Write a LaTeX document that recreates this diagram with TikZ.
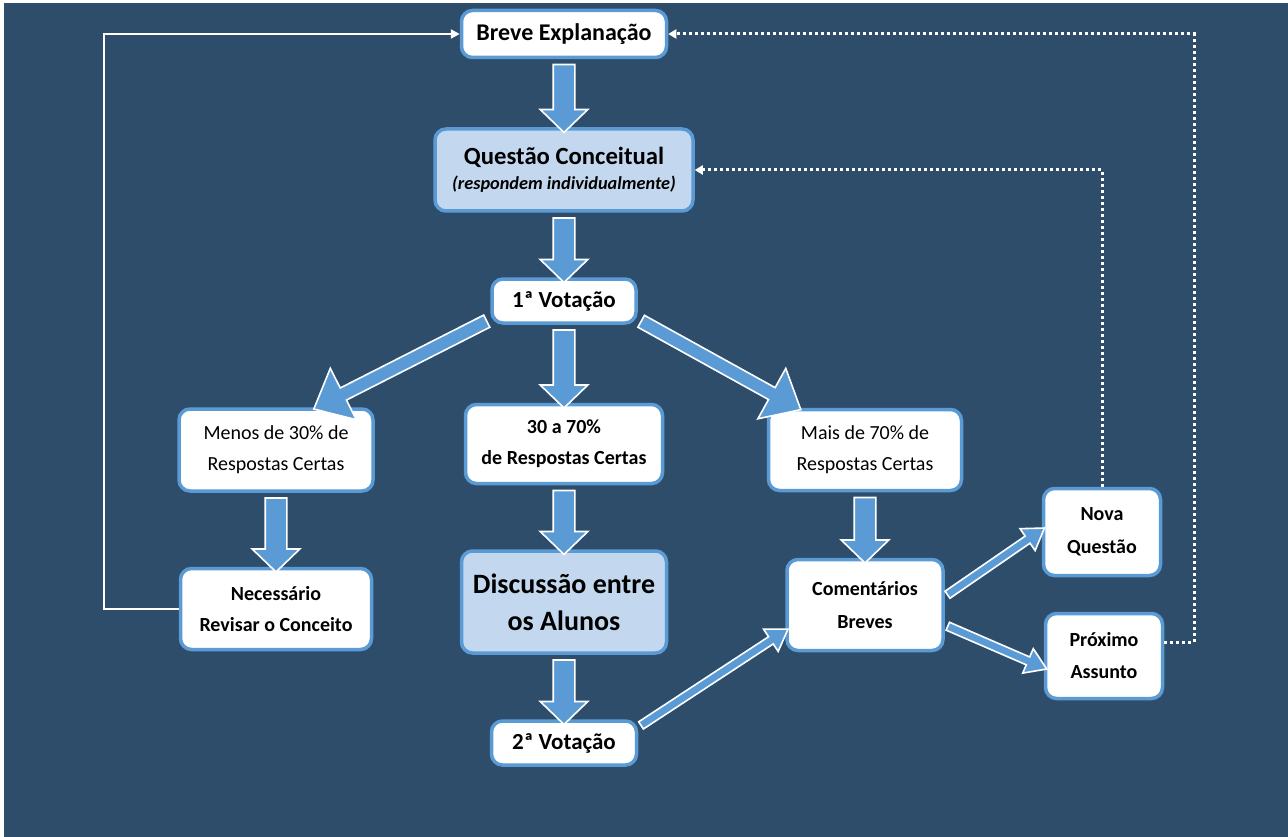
\documentclass[tikz,border=0pt]{standalone}
\usepackage{fontspec}
\setmainfont{Carlito}
\usetikzlibrary{positioning,arrows.meta,calc,shapes.arrows}
\definecolor{slate}{HTML}{2E4D6B}
\definecolor{rim}{HTML}{5B9BD5}
\definecolor{pale}{HTML}{C3D8EF}
\definecolor{flow}{HTML}{5B9BD5}

% block arrow from one anchor to another
\newcommand{\fatarrow}[3][flowarrow]{%
  \path let \p1=(#2), \p2=(#3),
    \n1={atan2(\y2-\y1,\x2-\x1)}, \n2={veclen(\x2-\x1,\y2-\y1)} in
    node[#1,rotate=\n1,minimum height=\n2] at ($(\p1)!0.5!(\p2)$) {};}

\begin{document}
\begin{tikzpicture}[x=1pt,y=-1pt,
    box/.style={draw=rim,line width=3.5pt,rounded corners=11pt,fill=white,
      align=center,inner sep=2pt,font=\bfseries\fontsize{20}{31}\selectfont},
    keybox/.style={box,fill=pale},
    flowarrow/.style={single arrow,draw=white,line width=1.6pt,fill=flow,
      inner sep=10pt,single arrow head extend=13pt,single arrow tip angle=92},
    slantarrow/.style={flowarrow,inner sep=6pt,single arrow head extend=22pt,
      single arrow tip angle=82},
    thinarrow/.style={flowarrow,inner sep=3.5pt,single arrow head extend=9pt,
      single arrow tip angle=66},
    loopline/.style={draw=white,line width=2.5pt,-{Triangle[length=9pt,width=9pt]}},
    dotline/.style={draw=white,line width=3pt,dash pattern=on 3pt off 3pt,
      -{Triangle[length=8pt,width=9pt]}}]
  \fill[white] (0,0) rectangle (1288,837);
  \fill[slate] (4,3) rectangle (1288,837);

  % boxes
  \node[box,minimum width=205,minimum height=47,font=\bfseries\fontsize{24}{28}\selectfont]
    (brv) at (564,34) {Breve Explanação};
  \node[keybox,minimum width=258,minimum height=82,font=\bfseries\fontsize{24.7}{26}\selectfont]
    (qst) at (564,170) {Questão Conceitual\\[-1pt]{\itshape\fontsize{18.3}{20}\selectfont(respondem individualmente)}};
  \node[box,minimum width=144,minimum height=44,font=\bfseries\fontsize{23}{26}\selectfont]
    (v1) at (564,301) {1ª Votação};
  \node[box,minimum width=194,minimum height=82,font=\fontsize{20}{31}\selectfont]
    (low) at (276,450) {Menos de 30\% de\\Respostas Certas};
  \node[box,minimum width=197,minimum height=79]
    (mid) at (564,444) {30 a 70\%\\de Respostas Certas};
  \node[box,minimum width=193,minimum height=81,font=\fontsize{20}{31}\selectfont]
    (high) at (865,450) {Mais de 70\% de\\Respostas Certas};
  \node[box,minimum width=191,minimum height=81]
    (nec) at (276,609) {Necessário\\Revisar o Conceito};
  \node[keybox,minimum width=205,minimum height=102,font=\bfseries\fontsize{28}{37}\selectfont]
    (disc) at (564,602) {Discussão entre\\os Alunos};
  \node[box,minimum width=145,minimum height=44,font=\bfseries\fontsize{23}{26}\selectfont]
    (v2) at (564,743) {2ª Votação};
  \node[box,minimum width=156,minimum height=91,font=\bfseries\fontsize{20}{33}\selectfont]
    (com) at (865,605) {Comentários\\Breves};
  \node[box,minimum width=117,minimum height=87,font=\bfseries\fontsize{20}{33}\selectfont]
    (nova) at (1102,532) {Nova\\Questão};
  \node[box,minimum width=117,minimum height=85,font=\bfseries\fontsize{20}{32}\selectfont]
    (prox) at (1104,656) {Próximo\\Assunto};

  % block arrows
  \fatarrow{brv.south}{qst.north}
  \fatarrow{qst.south}{v1.north}
  \fatarrow{v1.south}{mid.north}
  \fatarrow{low.south}{nec.north}
  \fatarrow{mid.south}{disc.north}
  \fatarrow{disc.south}{v2.north}
  \fatarrow{high.south}{com.north}
  \fatarrow[slantarrow]{v1.194}{low.46}
  \fatarrow[slantarrow]{v1.346}{high.148}
  \fatarrow[thinarrow]{v2.12}{com.198}
  \fatarrow[thinarrow]{com.6}{nova.178}
  \fatarrow[thinarrow]{com.346}{prox.191}

  % feedback lines
  \draw[loopline] (nec.west) -- ++(-75,0) |- (brv.west);
  \draw[dotline] (nova.north) |- (qst.east);
  \draw[dotline] (prox.13) -- ++(30,0) |- (brv.east);
\end{tikzpicture}
\end{document}
